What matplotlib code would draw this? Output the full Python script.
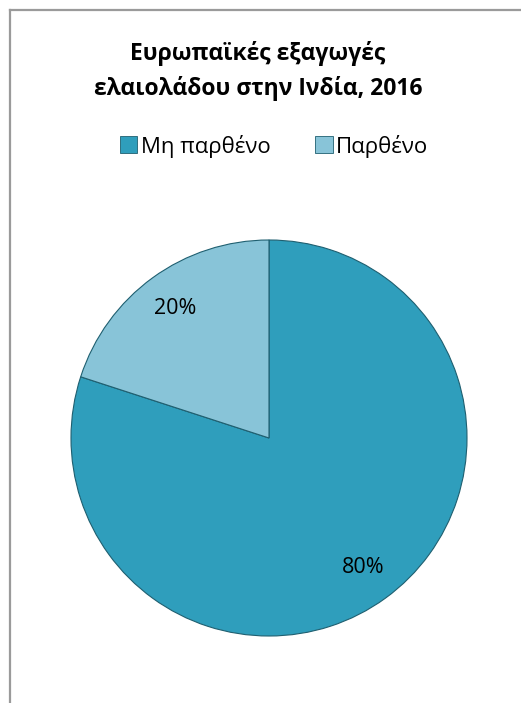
import matplotlib.pyplot as plt
from matplotlib.patches import Patch
from matplotlib.lines import Line2D

plt.rcParams['font.family'] = ['Open Sans', 'DejaVu Sans']

title = 'Ευρωπαϊκές εξαγωγές\nελαιολάδου στην Ινδία, 2016'
categories = ['Μη παρθένο', 'Παρθένο']
shares = [80, 20]
colors = ['#2F9EBC', '#88C4D8']

fig = plt.figure(figsize=(5.21, 7.03), dpi=100)

# chart border (only top and left visible in the crop)
fig.add_artist(Line2D([9.5 / 521, 9.5 / 521], [0, 1 - 9.5 / 703],
                      color='#9a9a9a', lw=1.6, transform=fig.transFigure))
fig.add_artist(Line2D([9.5 / 521, 1], [1 - 9.5 / 703, 1 - 9.5 / 703],
                      color='#9a9a9a', lw=1.6, transform=fig.transFigure))

fig.text(258 / 521, 1 - 71 / 703, title, ha='center', va='center',
         fontsize=16.5, fontweight='bold', linespacing=1.55, color='black')

# pie area: centre (269, 438) px, radius 198 px
ax = fig.add_axes([(269 - 198) / 521, (703 - 636) / 703, 396 / 521, 396 / 703])
wedges, texts, autotexts = ax.pie(
    shares, colors=colors, startangle=90, counterclock=False,
    autopct='%d%%', pctdistance=0.81,
    wedgeprops=dict(edgecolor='#1f5f70', linewidth=0.8),
    textprops=dict(fontsize=15.5, color='black'))
ax.set_xlim(-1, 1)
ax.set_ylim(-1, 1)
ax.set_aspect('auto')
ax.axis('off')

handles = [Patch(facecolor=c, edgecolor='#1f5f70', linewidth=0.6) for c in colors]
fig.legend(handles, categories, loc='center', bbox_to_anchor=(274 / 521, 1 - 146 / 703),
           ncol=2, frameon=False, fontsize=16, handlelength=0.8, handleheight=0.8,
           handletextpad=0.15, columnspacing=2.0)

fig.savefig('out.png', dpi=100)
